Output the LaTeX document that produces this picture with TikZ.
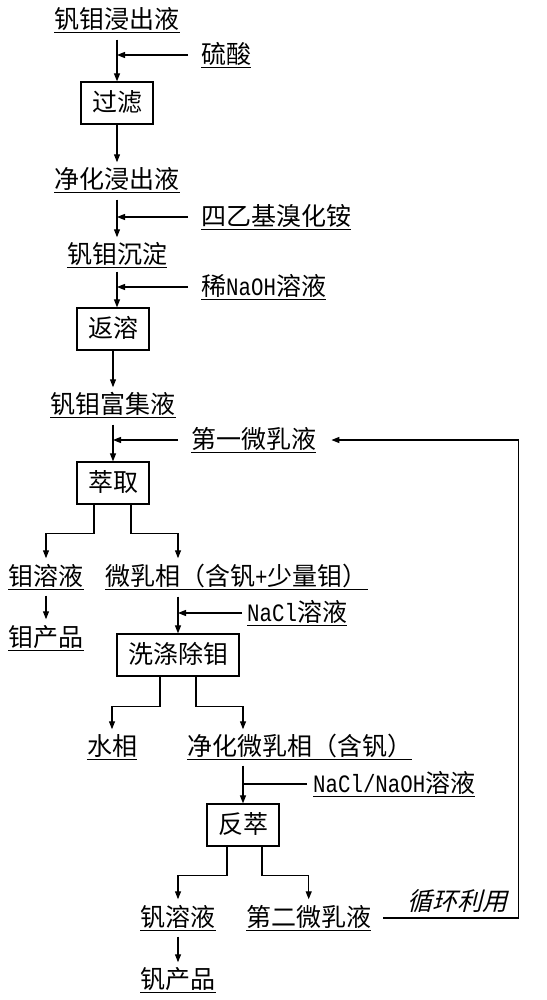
\documentclass[tikz,border=0pt]{standalone}
\usepackage{fontspec}
\setmainfont{Noto Sans CJK SC}
\newfontfamily\lat[FakeStretch=0.83]{Liberation Mono}
\newfontfamily\slnt[FakeSlant=0.25]{Noto Sans CJK SC}
\usetikzlibrary{arrows.meta}
\tikzset{
  lbl/.style={inner sep=0pt, text height=21pt, text depth=4pt, font=\fontsize{25}{30}\selectfont},
  ul/.style={line width=1.1pt},
  procbox/.style={draw, line width=1.3pt, inner xsep=11pt, inner ysep=0pt, text height=21pt, text depth=4pt, minimum height=42pt, font=\fontsize{25}{30}\selectfont},
  arr/.style={line width=1.2pt, -{Triangle[length=8pt,width=6pt]}},
  ln/.style={line width=1.2pt},
}
\newcommand\lab[3]{\node[lbl] (#1) at (#2) {#3};\draw[ul] (#1.south west) -- (#1.south east);}
\newcommand\labw[3]{\node[lbl,anchor=west] (#1) at (#2) {#3};\draw[ul] (#1.south west) -- (#1.south east);}
\begin{document}
\begin{tikzpicture}[x=1pt,y=-1pt]
\useasboundingbox (0,0) rectangle (546,1000);
\lab{s1}{117,20}{钒钼浸出液}
\labw{r1}{201,55}{硫酸}
\node[procbox] (b1) at (117,103) {过滤};
\lab{s2}{117,180}{净化浸出液}
\labw{r2}{201,217}{四乙基溴化铵}
\lab{s3}{117,255}{钒钼沉淀}
\labw{r3}{201,287}{稀{\lat NaOH}溶液}
\node[procbox] (b2) at (113,329) {返溶};
\lab{s4}{113,405}{钒钼富集液}
\labw{r4}{191,440}{第一微乳液}
\node[procbox] (b3) at (113,483) {萃取};
\lab{s5}{46,577}{钼溶液}
\labw{s6}{105,577}{微乳相（含钒{\lat +}少量钼）}
\lab{s7}{46,638}{钼产品}
\labw{r5}{247,613}{{\lat NaCl}溶液}
\node[procbox] (b4) at (178,655) {洗涤除钼};
\lab{s8}{112,747}{水相}
\labw{s9}{187,747}{净化微乳相（含钒）}
\labw{r6}{313,784}{{\lat NaCl/NaOH}溶液}
\node[procbox] (b5) at (243,825) {反萃};
\lab{s10}{178,918}{钒溶液}
\labw{s11}{246,918}{第二微乳液}
\lab{s12}{178,980}{钒产品}
\node[lbl, font={\fontsize{25}{30}\selectfont\slnt}, anchor=west] (t1) at (407,902) {循环利用};
% connectors
\draw[arr, shorten <=7pt] (s1.south) -- (b1.north);
\draw[arr, shorten <=13pt] (r1.west) -- (r1.west -| s1.south);
\draw[arr, shorten >=5pt] (b1.south) -- (s2.north);
\draw[arr, shorten <=7pt, shorten >=5pt] (s2.south) -- (s3.north);
\draw[arr, shorten <=13pt] (r2.west) -- (r2.west -| s2.south);
\draw[arr, shorten <=4pt] (s3.south) -- (s3.south |- b2.north);
\draw[arr, shorten <=13pt] (r3.west) -- (r3.west -| s3.south);
\draw[arr, shorten >=5pt] (b2.south) -- (s4.north);
\draw[arr, shorten <=7pt] (s4.south) -- (b3.north);
\draw[arr, shorten <=13pt] (r4.west) -- (r4.west -| s4.south);
\draw[arr, shorten >=6pt] ([xshift=-19pt]b3.south) -- ++(0,29) -| (s5.north);
\draw[arr, shorten >=6pt] ([xshift=18pt]b3.south) -- ++(0,29) -| (s6.north -| b4.north);
\draw[arr, shorten <=6pt, shorten >=6pt] (s5.south) -- (s7.north);
\draw[arr, shorten <=7pt] (s6.south -| b4.north) -- (b4.north);
\draw[arr, shorten <=5pt] (r5.west) -- (r5.west -| b4.north);
\draw[arr, shorten >=5pt] ([xshift=-18pt]b4.south) -- ++(0,30) -| (s8.north);
\draw[arr, shorten >=5pt] ([xshift=18pt]b4.south) -- ++(0,30) -| (s9.north -| b5.north);
\draw[arr, shorten <=6pt] (s9.south -| b5.north) -- (b5.north);
\draw[ln, shorten <=6pt] (r6.west) -- (r6.west -| b5.north);
\draw[arr, shorten >=6pt] ([xshift=-16pt]b5.south) -- ++(0,29) -| (s10.north);
\draw[arr, shorten >=6pt] ([xshift=19pt]b5.south) -- ++(0,29) -| (s11.north);
\draw[arr, shorten <=6pt, shorten >=5pt] (s10.south) -- (s12.north);
\draw[arr, shorten <=12pt, shorten >=15pt] (s11.east) -- ++(147,0) |- (r4.east);
\end{tikzpicture}
\end{document}
